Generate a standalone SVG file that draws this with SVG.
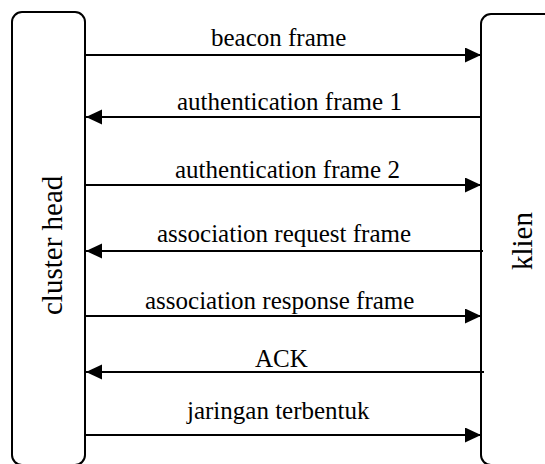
<svg xmlns="http://www.w3.org/2000/svg" width="545" height="464" viewBox="0 0 545 464">
<defs>
<marker id="ah" markerUnits="userSpaceOnUse" markerWidth="17" markerHeight="16" refX="16" refY="7.5" orient="auto">
<path d="M0,0 L16,7.5 L0,15 z" fill="#000"/>
</marker>
</defs>
<rect width="545" height="464" fill="#fff"/>
<g id="cluster-head">
<rect x="12" y="12" width="73" height="453" rx="10" fill="#fff" stroke="#000" stroke-width="2"/>
<text x="0" y="0" font-family="'Liberation Serif'" font-size="29" fill="#000" transform="translate(62,315) rotate(-90)">cluster head</text>
</g>
<g id="klien">
<rect x="481" y="14" width="80" height="451" rx="10" fill="#fff" stroke="#000" stroke-width="2"/>
<text x="0" y="0" font-family="'Liberation Serif'" font-size="29" fill="#000" transform="translate(532,270) rotate(-90)">klien</text>
</g>
<g id="connectors" stroke="#000" stroke-width="2" fill="none">
<line x1="85" y1="55" x2="481" y2="55" marker-end="url(#ah)"/>
<line x1="481" y1="117" x2="86" y2="117" marker-end="url(#ah)"/>
<line x1="85" y1="185" x2="481" y2="185" marker-end="url(#ah)"/>
<line x1="483" y1="251" x2="86" y2="251" marker-end="url(#ah)"/>
<line x1="85" y1="316" x2="481" y2="316" marker-end="url(#ah)"/>
<line x1="484" y1="372" x2="86" y2="372" marker-end="url(#ah)"/>
<line x1="85" y1="435" x2="481" y2="435" marker-end="url(#ah)"/>
</g>
<g id="labels">
<text x="211" y="46" font-family="'Liberation Serif'" font-size="25" fill="#000">beacon frame</text>
<text x="177" y="110" font-family="'Liberation Serif'" font-size="25" fill="#000">authentication frame 1</text>
<text x="175" y="178" font-family="'Liberation Serif'" font-size="25" fill="#000">authentication frame 2</text>
<text x="157" y="242" font-family="'Liberation Serif'" font-size="25" fill="#000">association request frame</text>
<text x="145" y="309" font-family="'Liberation Serif'" font-size="25" fill="#000">association response frame</text>
<text x="255" y="367" font-family="'Liberation Serif'" font-size="25" fill="#000">ACK</text>
<text x="187" y="419" font-family="'Liberation Serif'" font-size="25" fill="#000">jaringan terbentuk</text>
</g>
</svg>
